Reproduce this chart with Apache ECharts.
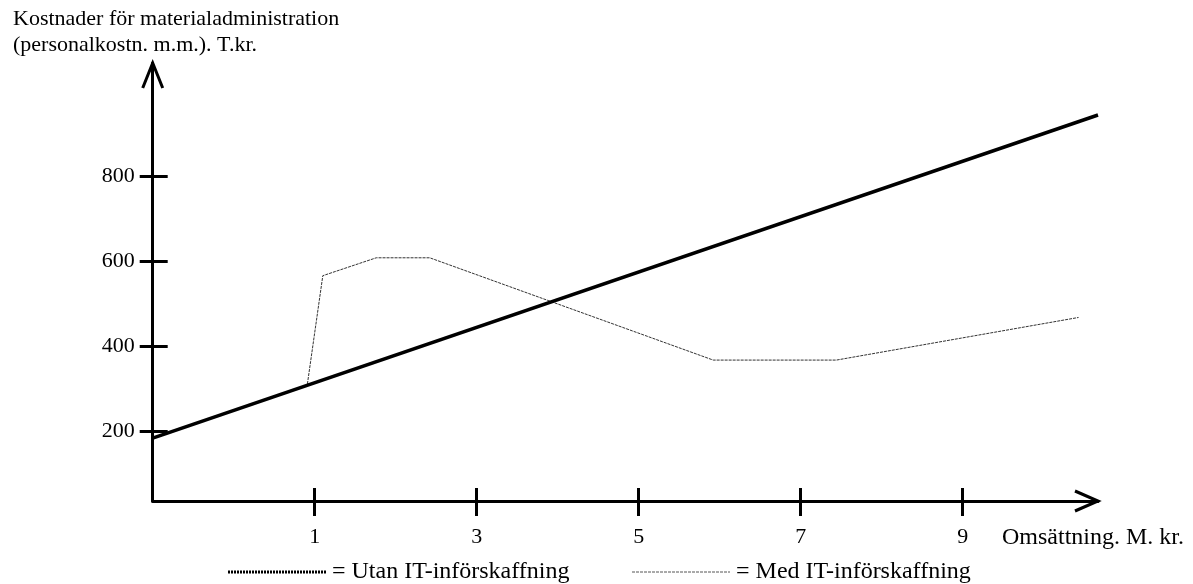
<!DOCTYPE html>
<html>
<head>
<meta charset="utf-8">
<script src="https://cdn.jsdelivr.net/npm/echarts@6/dist/echarts.min.js"></script>
<style>html,body{margin:0;padding:0;background:#fff}#c{width:1193px;height:584px}</style>
</head>
<body>
<div id="c"></div>
<script>
// Data
const xTickValues = [1, 3, 5, 7, 9];
const yTickValues = [200, 400, 600, 800];
const utanX = [-1, 10.67];
const utanY = [185, 943];
const medX = [0.91, 1.10, 1.76, 2.42, 5.92, 7.44, 10.43];
const medY = [312, 566, 608, 608, 368, 368, 468];
const xMin = -1, xMax = 10.67;
const yMin = 37.4, yMax = 1065;
const titleText = 'Kostnader för materialadministration\n(personalkostn. m.m.). T.kr.';
const xName = 'Omsättning. M. kr.';
const legendNames = ['= Utan IT-införskaffning', '= Med IT-införskaffning'];

const FONT = '"Liberation Serif", "Times New Roman", serif';
const FS = 22;
const FS2 = 24;
const chart = echarts.init(document.getElementById('c'));

const zip = (a, b) => a.map((v, i) => [v, b[i]]);

const baseX = {
  type: 'value', min: xMin, max: xMax, gridIndex: 0, position: 'bottom',
  splitLine: { show: false }
};
const baseY = {
  type: 'value', min: yMin, max: yMax, gridIndex: 0, position: 'left',
  splitLine: { show: false }
};

chart.setOption({
  animation: false,
  backgroundColor: '#fff',
  title: {
    text: titleText, left: 8, top: 1,
    textStyle: { fontFamily: FONT, fontSize: FS, fontWeight: 'normal', color: '#000', lineHeight: 26 }
  },
  grid: { left: 152.7, right: 95, top: 63, bottom: 83 },
  xAxis: [
    Object.assign({}, baseX, {
      axisLine: { show: true, onZero: false, lineStyle: { color: '#000', width: 3 } },
      axisTick: { show: true, inside: false, length: 15, customValues: xTickValues, lineStyle: { color: '#000', width: 3 } },
      axisLabel: { show: true, customValues: xTickValues, margin: 25, color: '#000', fontFamily: FONT, fontSize: FS }
    }),
    Object.assign({}, baseX, {
      axisLine: { show: false, onZero: false },
      axisTick: { show: true, inside: true, length: 13, customValues: xTickValues, lineStyle: { color: '#000', width: 3 } },
      axisLabel: { show: false }
    })
  ],
  yAxis: [
    Object.assign({}, baseY, {
      axisLine: { show: true, onZero: false, lineStyle: { color: '#000', width: 3 } },
      axisTick: { show: true, inside: false, length: 13, customValues: yTickValues, lineStyle: { color: '#000', width: 3 } },
      axisLabel: { show: true, customValues: yTickValues, margin: 18, color: '#000', fontFamily: FONT, fontSize: FS }
    }),
    Object.assign({}, baseY, {
      axisLine: { show: false, onZero: false },
      axisTick: { show: true, inside: true, length: 15, customValues: yTickValues, lineStyle: { color: '#000', width: 3 } },
      axisLabel: { show: false }
    })
  ],
  series: [
    {
      name: legendNames[0], type: 'line', xAxisIndex: 0, yAxisIndex: 0,
      data: zip(utanX, utanY), symbol: 'none',
      lineStyle: { color: '#000', width: 3.5 }, z: 3
    },
    {
      name: legendNames[1], type: 'line', xAxisIndex: 0, yAxisIndex: 0,
      data: zip(medX, medY), symbol: 'none',
      lineStyle: { color: '#333', width: 1, type: [3, 1] }, z: 2
    }
  ]
});

// Axis arrows and decorations computed from the axes
const origin = chart.convertToPixel({ xAxisIndex: 0, yAxisIndex: 0 }, [xMin, yMin]);
const xEnd = chart.convertToPixel({ xAxisIndex: 0, yAxisIndex: 0 }, [xMax, yMin]);
const yEnd = chart.convertToPixel({ xAxisIndex: 0, yAxisIndex: 0 }, [xMin, yMax]);
const labelY = origin[1] + 25 + FS / 2 + 1;
const legY = labelY + 34;

chart.setOption({
  graphic: [
    { type: 'polyline', shape: { points: [[yEnd[0] - 10, yEnd[1] + 25], [yEnd[0], yEnd[1]], [yEnd[0] + 10, yEnd[1] + 25]] },
      style: { stroke: '#000', lineWidth: 3, fill: null }, z: 10 },
    { type: 'polyline', shape: { points: [[xEnd[0] - 23, xEnd[1] - 10], [xEnd[0], xEnd[1]], [xEnd[0] - 23, xEnd[1] + 10]] },
      style: { stroke: '#000', lineWidth: 3, fill: null }, z: 10 },
    { type: 'text', x: 1184, y: labelY, style: { text: xName, font: FS2 + 'px ' + FONT, fill: '#000', align: 'right', verticalAlign: 'middle' } },
    { type: 'line', shape: { x1: 228, y1: legY, x2: 326, y2: legY }, style: { stroke: '#000', lineWidth: 3, lineDash: [2, 1] } },
    { type: 'text', x: 332, y: legY, style: { text: legendNames[0], font: FS2 + 'px ' + FONT, fill: '#000', verticalAlign: 'middle' } },
    { type: 'line', shape: { x1: 632, y1: legY, x2: 730, y2: legY }, style: { stroke: '#555', lineWidth: 1, lineDash: [3, 1] } },
    { type: 'text', x: 736, y: legY, style: { text: legendNames[1], font: FS2 + 'px ' + FONT, fill: '#000', verticalAlign: 'middle' } }
  ]
});
</script>
</body>
</html>
